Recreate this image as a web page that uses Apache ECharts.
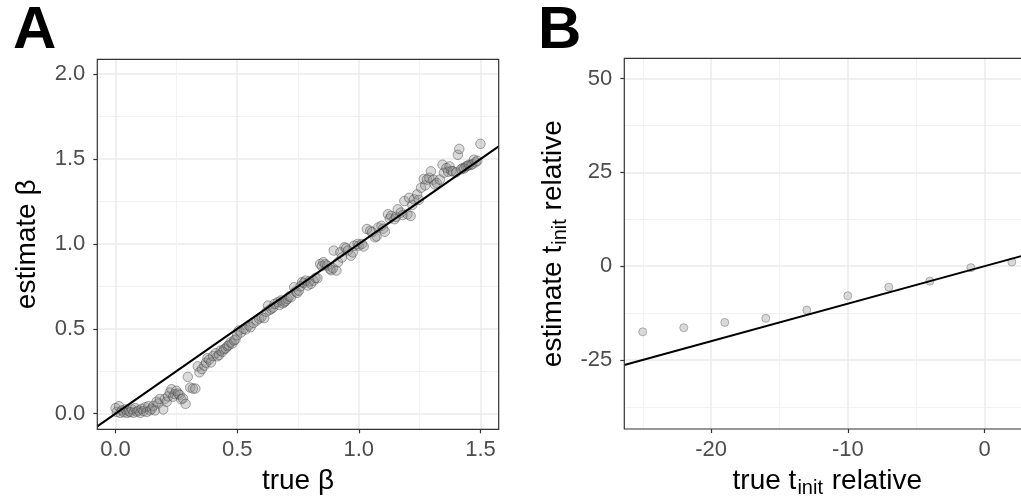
<!DOCTYPE html>
<html><head><meta charset="utf-8">
<script src="https://cdn.jsdelivr.net/npm/echarts@6/dist/echarts.min.js"></script>
<style>html,body{margin:0;padding:0;overflow:hidden;background:#fff}#c{width:1150px;height:503px}</style>
</head><body><div id="c"></div>
<script>
// Panel A: true beta vs estimated beta
const trueBeta = [0.000,0.005,0.014,0.020,0.027,0.034,0.041,0.048,0.054,0.061,0.068,0.074,0.081,0.088,0.095,0.102,0.108,0.115,0.122,0.128,0.135,0.142,0.149,0.155,0.162,0.169,0.176,0.182,0.196,0.203,0.210,0.216,0.223,0.230,0.237,0.243,0.250,0.257,0.264,0.270,0.277,0.288,0.297,0.307,0.318,0.328,0.338,0.345,0.355,0.365,0.372,0.378,0.385,0.392,0.401,0.412,0.419,0.426,0.432,0.439,0.446,0.453,0.460,0.466,0.473,0.480,0.487,0.493,0.500,0.507,0.515,0.527,0.535,0.547,0.555,0.567,0.580,0.590,0.600,0.611,0.620,0.627,0.633,0.640,0.648,0.654,0.667,0.673,0.680,0.687,0.694,0.700,0.707,0.714,0.721,0.734,0.740,0.747,0.754,0.760,0.767,0.774,0.781,0.790,0.797,0.803,0.814,0.822,0.830,0.841,0.848,0.854,0.862,0.870,0.881,0.887,0.894,0.897,0.908,0.914,0.924,0.930,0.941,0.948,0.955,0.968,0.975,0.981,0.995,1.000,1.013,1.020,1.033,1.047,1.055,1.067,1.073,1.080,1.093,1.100,1.107,1.120,1.127,1.133,1.147,1.153,1.160,1.173,1.180,1.187,1.200,1.207,1.213,1.220,1.227,1.240,1.247,1.256,1.267,1.273,1.280,1.290,1.296,1.307,1.313,1.320,1.333,1.344,1.350,1.360,1.367,1.373,1.380,1.387,1.400,1.407,1.413,1.420,1.427,1.433,1.440,1.447,1.453,1.460,1.467,1.473,1.480,1.487,1.500];
const estBeta = [0.033,0.010,0.044,0.005,0.019,0.008,0.025,0.004,0.013,0.010,0.025,0.006,0.033,0.012,0.019,0.005,0.029,0.015,0.038,0.010,0.044,0.020,0.029,0.045,0.019,0.071,0.060,0.087,0.025,0.087,0.070,0.102,0.125,0.144,0.100,0.115,0.135,0.118,0.110,0.085,0.090,0.058,0.217,0.154,0.148,0.148,0.279,0.244,0.263,0.283,0.300,0.327,0.318,0.302,0.340,0.356,0.338,0.346,0.372,0.365,0.380,0.385,0.398,0.404,0.420,0.413,0.432,0.437,0.462,0.490,0.478,0.500,0.496,0.520,0.510,0.535,0.549,0.560,0.569,0.563,0.600,0.637,0.610,0.618,0.625,0.647,0.657,0.640,0.667,0.650,0.657,0.665,0.676,0.690,0.686,0.745,0.720,0.712,0.725,0.750,0.775,0.770,0.784,0.755,0.780,0.765,0.784,0.800,0.798,0.882,0.870,0.892,0.880,0.873,0.853,0.845,0.857,0.961,0.843,0.892,0.951,0.920,0.980,0.975,0.961,0.931,0.950,0.990,1.000,0.990,1.000,0.985,1.088,1.078,1.070,1.039,1.045,1.097,1.107,1.090,1.072,1.175,1.150,1.165,1.146,1.160,1.204,1.185,1.170,1.253,1.175,1.272,1.165,1.230,1.263,1.292,1.260,1.331,1.383,1.345,1.379,1.390,1.428,1.379,1.350,1.360,1.379,1.467,1.420,1.447,1.425,1.457,1.430,1.428,1.422,1.525,1.560,1.440,1.447,1.445,1.457,1.460,1.467,1.465,1.470,1.496,1.481,1.490,1.590];
// Panel B: true t_init relative vs estimate
const trueT = [-25,-22,-19,-16,-13,-10,-7,-4,-1,2];
const estT = [-17.5,-16.4,-15.0,-13.9,-11.7,-7.9,-5.6,-4.0,-0.4,1.1];
// axis ranges
const axA_x = [-0.075, 1.575], axA_y = [-0.092, 2.088];
const axB_x = [-26.35, 3.35], axB_y = [-43.4, 55.4];
const panelLabels = ['A', 'B'];

const FONT = 'Liberation Sans, Arial, sans-serif';
const gridCol = '#ebebeb';
function isMult(v, s) { return Math.abs(v / s - Math.round(v / s)) < 1e-6; }
function mkAxis(gi, range, step, fmt, pos, nameTxt, nameGap) {
  return {
    type: 'value', gridIndex: gi, min: range[0], max: range[1], position: pos,
    minInterval: step, maxInterval: step, splitNumber: 4,
    name: nameTxt, nameLocation: 'middle', nameGap: nameGap,
    nameTextStyle: {
      fontFamily: FONT, fontSize: 28, color: '#000',
      rich: {
        n: { fontFamily: FONT, fontSize: 28, color: '#000', lineHeight: 34, verticalAlign: 'middle' },
        s: { fontFamily: FONT, fontSize: 20, color: '#000', lineHeight: 34, verticalAlign: 'bottom', padding: [0, 1, 0, 1] }
      }
    },
    axisLine: { show: false, onZero: false },
    axisTick: { show: true, length: 4, lineStyle: { color: '#333', width: 1.2 } },
    axisLabel: {
      show: true, showMinLabel: false, showMaxLabel: false,
      margin: pos === 'bottom' ? 10 : 12,
      fontFamily: FONT, fontSize: 22, color: '#4d4d4d',
      formatter: v => isMult(v, step) ? fmt(v) : ''
    },
    splitLine: { show: true, showMinLine: false, showMaxLine: false, lineStyle: { color: gridCol, width: 1.5 } },
    minorTick: { show: false, splitNumber: 2 },
    minorSplitLine: { show: true, lineStyle: { color: '#f0f0f0', width: 0.9 } }
  };
}
const chart = echarts.init(document.getElementById('c'), null, { renderer: 'canvas' });
chart.setOption({
  animation: false,
  backgroundColor: '#fff',
  title: [
    { text: panelLabels[0], left: 8, top: -4, textStyle: { fontFamily: FONT, fontWeight: 'bold', fontSize: 60, color: '#000' } },
    { text: panelLabels[1], left: 533, top: -4, textStyle: { fontFamily: FONT, fontWeight: 'bold', fontSize: 60, color: '#000' } }
  ],
  grid: [
    { left: 97.3, top: 59.3, width: 401.4, height: 370, show: true, borderColor: '#333', borderWidth: 1.2, backgroundColor: 'transparent', z: 5 },
    { left: 624.3, top: 58.3, width: 406, height: 371.7, show: true, borderColor: '#333', borderWidth: 1.2, backgroundColor: 'transparent', z: 5 }
  ],
  xAxis: [
    mkAxis(0, axA_x, 0.5, v => v.toFixed(1), 'bottom', '{n|true β}', 35),
    mkAxis(1, axB_x, 10, v => String(Math.round(v)), 'bottom', '{n|true t}{s|init}{n| relative}', 35)
  ],
  yAxis: [
    mkAxis(0, axA_y, 0.5, v => v.toFixed(1), 'left', '{n|estimate β}', 53),
    mkAxis(1, axB_y, 25, v => String(Math.round(v)), 'left', '{n|estimate t}{s|init}{n| relative}', 54)
  ],
  series: [
    {
      type: 'scatter', xAxisIndex: 0, yAxisIndex: 0, symbolSize: 9.5,
      data: trueBeta.map((x, i) => [x, estBeta[i]]),
      itemStyle: { color: 'rgba(140,140,140,0.4)', borderColor: 'rgba(60,60,60,0.55)', borderWidth: 1 },
      z: 2
    },
    {
      type: 'line', xAxisIndex: 0, yAxisIndex: 0, symbol: 'none',
      data: [[axA_x[0], axA_x[0]], [axA_x[1], axA_x[1]]],
      lineStyle: { color: '#000', width: 2 }, z: 3
    },
    {
      type: 'scatter', xAxisIndex: 1, yAxisIndex: 1, symbolSize: 8,
      data: trueT.map((x, i) => [x, estT[i]]),
      itemStyle: { color: '#cfcfcf', borderColor: '#9a9a9a', borderWidth: 1 },
      z: 2
    },
    {
      type: 'line', xAxisIndex: 1, yAxisIndex: 1, symbol: 'none',
      data: [[axB_x[0], axB_x[0]], [axB_x[1], axB_x[1]]],
      lineStyle: { color: '#000', width: 2 }, z: 3
    }
  ]
});
</script></body></html>
